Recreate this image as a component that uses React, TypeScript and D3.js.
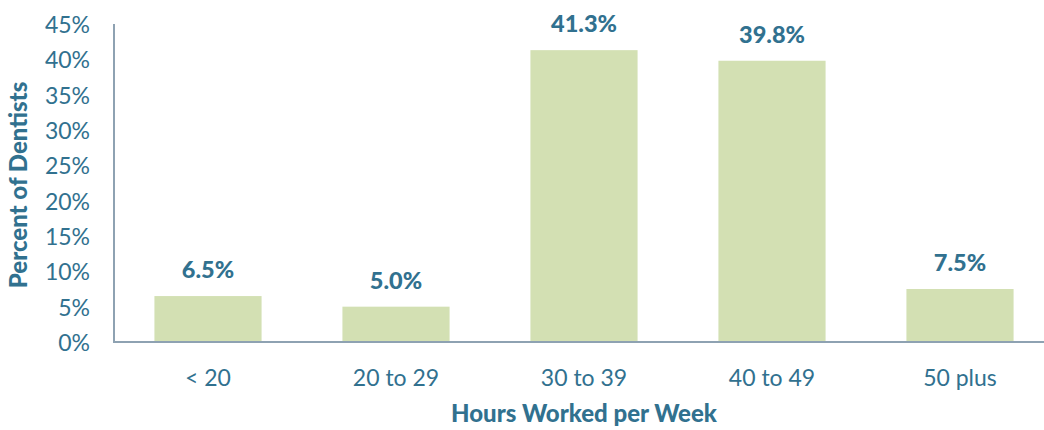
import React from "react";
import * as d3 from "d3";

const categories = ["< 20", "20 to 29", "30 to 39", "40 to 49", "50 plus"];
const values = [6.5, 5.0, 41.3, 39.8, 7.5];
const yTicks = [0, 5, 10, 15, 20, 25, 30, 35, 40, 45];
const xTitle = "Hours Worked per Week";
const yTitle = "Percent of Dentists";

const W = 1044;
const H = 430;
const TEXT = "#31718F";
const BAR = "#D3E0B3";
const AXIS = "#8EA2B2";
const FONT = "Lato, 'Open Sans', sans-serif";

export default function App() {
  const x = d3
    .scaleBand<string>()
    .domain(categories)
    .range([114, 1054])
    .paddingInner(0.43)
    .paddingOuter(0.215);
  const y = d3.scaleLinear().domain([0, 45]).range([342, 24]);

  return (
    <svg
      width={W}
      height={H}
      style={{ position: "absolute", left: 0, top: 0, background: "#fff" }}
      fontFamily={FONT}
    >
      {categories.map((c, i) => (
        <rect
          key={c}
          x={x(c)}
          y={y(values[i])}
          width={x.bandwidth()}
          height={y(0) - y(values[i])}
          fill={BAR}
        />
      ))}
      <line x1={114} x2={W} y1={y(0)} y2={y(0)} stroke={AXIS} strokeWidth={2} />
      <line x1={114} x2={114} y1={y(45)} y2={y(0) + 1} stroke={AXIS} strokeWidth={2} />
      {yTicks.map((t) => (
        <text
          key={t}
          x={90}
          y={y(t)}
          textAnchor="end"
          dominantBaseline="central"
          fontSize={23}
          fill={TEXT}
        >
          {d3.format("d")(t) + "%"}
        </text>
      ))}
      {categories.map((c, i) => (
        <text
          key={c}
          x={(x(c) as number) + x.bandwidth() / 2}
          y={y(values[i]) - 18}
          textAnchor="middle"
          fontSize={23.5}
          fontWeight={900}
          fill={TEXT}
        >
          {values[i].toFixed(1) + "%"}
        </text>
      ))}
      {categories.map((c) => (
        <text
          key={c}
          x={(x(c) as number) + x.bandwidth() / 2}
          y={377}
          textAnchor="middle"
          dominantBaseline="central"
          fontSize={23}
          fill={TEXT}
        >
          {c}
        </text>
      ))}
      <text
        x={584}
        y={422}
        textAnchor="middle"
        fontSize={24}
        fontWeight={900}
        fill={TEXT}
      >
        {xTitle}
      </text>
      <text
        transform={`translate(27,${y(22.5) + 2}) rotate(-90)`}
        textAnchor="middle"
        fontSize={24}
        fontWeight={900}
        fill={TEXT}
      >
        {yTitle}
      </text>
    </svg>
  );
}
